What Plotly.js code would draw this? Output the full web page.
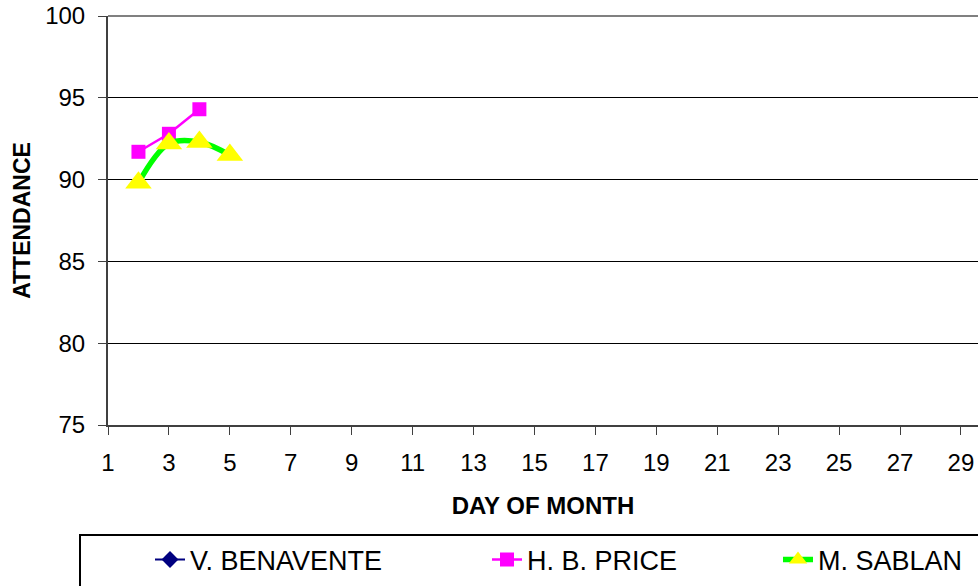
<!DOCTYPE html>
<html>
<head>
<meta charset="utf-8">
<script src="https://cdn.plot.ly/plotly-3.0.1.min.js"></script>
<style>html,body{margin:0;padding:0;background:#fff;}#chart{width:978px;height:586px;}</style>
</head>
<body>
<div id="chart"></div>
<script>
// Data (V. BENAVENTE has no plotted values)
const seriesNames = ["V. BENAVENTE", "H. B. PRICE", "M. SABLAN"];
const benaventeDays = [2, 3, 4, 5];
const benaventeValues = [null, null, null, null];
const priceDays = [2, 3, 4];
const priceValues = [91.7, 92.8, 94.3];
const sablanDays = [2, 3, 4, 5];
const sablanValues = [89.8, 92.2, 92.3, 91.5];
const xTitle = "DAY OF MONTH";
const yTitle = "ATTENDANCE";

const FONT = "Arial, 'Liberation Sans', sans-serif";

const traces = [
  {
    type: "scatter", mode: "lines+markers", name: seriesNames[0],
    x: benaventeDays, y: benaventeValues,
    line: {color: "#000080", width: 2},
    marker: {symbol: "diamond", size: 13, color: "#000080"},
    legend: "legend"
  },
  {
    type: "scatter", mode: "lines+markers", name: seriesNames[1],
    x: priceDays, y: priceValues,
    line: {color: "#FF00FF", width: 2.5},
    marker: {symbol: "square", size: 14, color: "#FF00FF"},
    legend: "legend2"
  },
  {
    type: "scatter", mode: "lines+markers", name: seriesNames[2],
    x: sablanDays, y: sablanValues,
    line: {color: "#00FF00", width: 5.5, shape: "spline", smoothing: 1},
    marker: {symbol: "triangle-up", size: 23, color: "#FFFF00"},
    legend: "legend3"
  }
];

const W = 870, H = 409, L = 108, T = 16;
function px2x(p) { return (p - L) / W; }
function py2y(p) { return (T + H - p) / H; }

function legendAt(xpx) {
  return {
    x: px2x(xpx), xanchor: "left",
    y: py2y(560), yanchor: "middle",
    orientation: "h",
    bgcolor: "rgba(0,0,0,0)", borderwidth: 0,
    font: {family: FONT, size: 27, color: "#000"},
    itemclick: false
  };
}

const layout = {
  width: 978, height: 586,
  margin: {l: L, r: 0, t: T, b: 586 - T - H},
  paper_bgcolor: "#fff", plot_bgcolor: "#fff",
  font: {family: FONT, color: "#000"},
  showlegend: true,
  xaxis: {
    range: [1, 29.56], tick0: 1, dtick: 2,
    ticks: "outside", ticklen: 8, tickwidth: 1, tickcolor: "#404040",
    showline: true, linecolor: "#404040", linewidth: 2,
    showgrid: false, zeroline: false,
    tickfont: {family: FONT, size: 24, color: "#000"},
    ticklabelstandoff: 7,
    title: {text: xTitle, font: {family: FONT, size: 24, color: "#000", weight: "bold"}, standoff: 22}
  },
  yaxis: {
    range: [75, 100], tick0: 75, dtick: 5,
    ticks: "outside", ticklen: 8, tickwidth: 1, tickcolor: "#404040",
    showline: true, linecolor: "#404040", linewidth: 2,
    showgrid: true, gridcolor: "#000", gridwidth: 1,
    zeroline: false,
    tickfont: {family: FONT, size: 24, color: "#000"},
    ticklabelstandoff: 8,
    title: {text: yTitle, font: {family: FONT, size: 23, color: "#000", weight: "bold"}, standoff: 8}
  },
  legend: legendAt(150),
  legend2: legendAt(487),
  legend3: legendAt(778),
  shapes: [
    {type: "line", xref: "paper", yref: "paper", x0: 0, x1: 1.02, y0: 1, y1: 1,
     line: {color: "#808080", width: 2}},
    {type: "rect", xref: "paper", yref: "paper",
     x0: px2x(80), x1: px2x(1000), y0: py2y(535), y1: py2y(620),
     line: {color: "#000", width: 2}, fillcolor: "rgba(0,0,0,0)", layer: "below"}
  ]
};

Plotly.newPlot("chart", traces, layout, {displayModeBar: false, staticPlot: true});
</script>
</body>
</html>
